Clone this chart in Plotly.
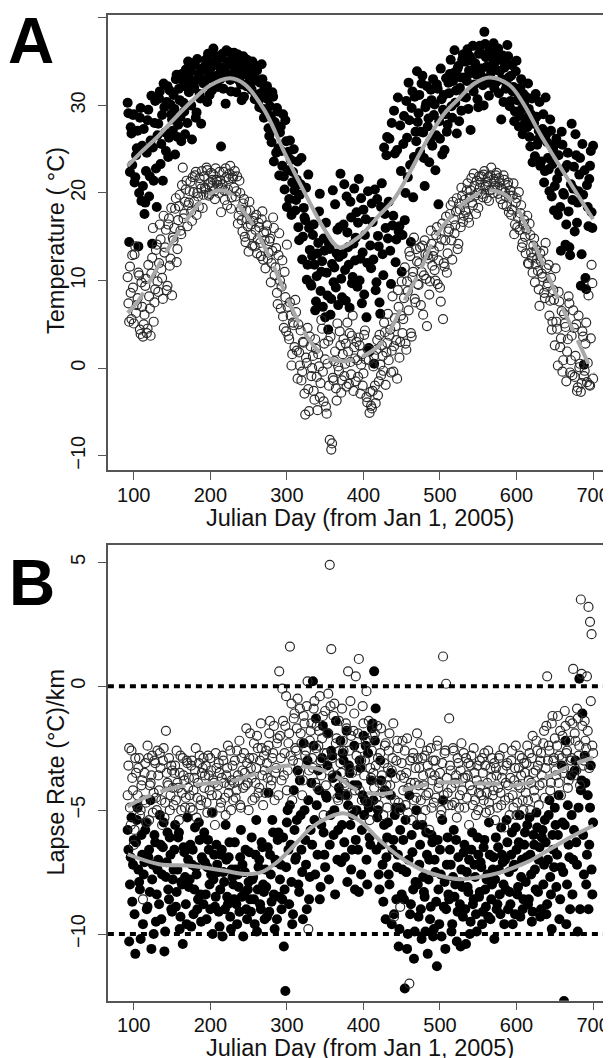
import plotly.graph_objects as go

# ---------------- data ----------------
days_even = list(range(92, 701, 2))
days_odd = list(range(93, 700, 2))

temp_filled_even = [
    30.3, 14.4, 27.5, 23.2, 29.0, 21.8, 25.1, 13.9, 28.6, 19.1,
    20.8, 17.6, 22.5, 28.3, 19.6, 26.0, 14.2, 21.4, 30.5, 18.4,
    27.9, 31.6, 25.6, 21.4, 29.8, 24.8, 32.2, 26.3, 30.1, 28.4,
    31.2, 24.4, 33.5, 27.8, 30.6, 25.9, 32.8, 29.3, 34.1, 28.0,
    31.5, 33.9, 26.1, 32.4, 34.6, 29.2, 33.0, 31.3, 27.9, 34.2,
    32.6, 35.2, 30.4, 33.8, 34.9, 31.7, 36.5, 33.3, 35.6, 32.1,
    34.4, 25.3, 35.9, 33.6, 30.2, 34.8, 36.1, 32.9, 35.3, 33.7,
    34.7, 31.5, 35.8, 33.1, 32.4, 34.9, 31.0, 33.8, 35.2, 32.6,
    34.3, 31.8, 33.6, 30.7, 32.9, 34.5, 29.8, 31.4, 33.0, 28.6,
    30.9, 32.2, 27.4, 29.9, 25.8, 31.0, 28.1, 24.6, 29.3, 22.0,
    27.6, 23.1, 21.9, 28.3, 18.4, 24.7, 26.0, 17.5, 22.4, 20.3,
    19.2, 23.6, 14.6, 21.0, 12.4, 18.3, 16.9, 10.1, 22.1, 13.5,
    9.4, 15.2, 11.8, 7.6, 13.1, 17.9, 8.8, 12.2, 14.8, 5.8,
    10.9, 4.4, 13.6, 7.9, 20.3, 11.5, 9.2, 15.8, 12.7, 22.2,
    8.1, 16.4, 11.2, 19.6, 13.8, 6.9, 17.2, 10.4, 20.5, 14.9,
    9.3, 21.6, 12.5, 7.4, 18.1, 15.2, 5.8, 20.2, 1.9, 11.4,
    16.7, 0.5, 8.9, 19.3, 13.9, 6.2, 21.1, 10.6, 17.6, 24.3,
    14.8, 26.2, 9.6, 16.3, 29.4, 12.1, 24.9, 15.6, 27.7, 11.0,
    25.6, 16.9, 30.5, 21.8, 28.3, 14.4, 31.6, 24.1, 27.0, 33.9,
    29.1, 24.7, 32.5, 26.9, 20.8, 30.2, 27.6, 23.5, 31.8, 25.4,
    28.9, 22.6, 32.4, 18.7, 26.2, 30.7, 29.5, 24.9, 33.1, 27.8,
    31.4, 35.2, 28.6, 33.7, 30.3, 26.8, 34.5, 32.0, 29.4, 35.8,
    33.2, 30.9, 36.4, 34.0, 27.2, 35.1, 31.6, 34.8, 33.5, 29.8,
    36.8, 34.2, 32.3, 38.4, 35.5, 33.1, 31.1, 36.2, 34.6, 37.1,
    35.0, 32.7, 36.5, 33.9, 28.4, 35.7, 34.3, 31.9, 36.9, 33.2,
    30.5, 34.6, 32.1, 29.3, 35.1, 31.4, 28.8, 33.0, 26.7, 30.2,
    31.0, 27.5, 29.6, 25.3, 30.8, 27.9, 24.2, 28.7, 26.1, 30.4,
    23.6, 27.3, 21.2, 30.9, 25.8, 22.7, 28.4, 19.6, 24.9, 20.8,
    26.2, 17.5, 22.4, 13.4, 25.5, 19.8, 14.1, 23.2, 17.9, 12.9,
    27.9, 20.5, 15.6, 24.3, 18.9, 22.1, 9.4, 25.6, 0.4, 10.3,
    20.9, 16.2, 23.1, 17.8, 25.4,
]
temp_filled_odd = [
    29.1, 22.4, 26.8, 28.9, 21.2, 24.3, 27.1, 20.0, 29.7, 25.4,
    27.3, 18.9, 24.6, 29.5, 21.9, 31.1, 25.2, 28.0, 22.8, 26.6,
    30.8, 23.3, 28.9, 32.5, 26.9, 30.4, 24.1, 31.7, 29.0, 27.1,
    29.6, 33.0, 26.4, 31.9, 28.7, 33.6, 30.3, 26.7, 32.1, 35.0,
    33.1, 30.0, 34.8, 32.0, 28.6, 35.3, 33.6, 30.8, 34.0, 32.5,
    34.5, 33.0, 35.9, 31.2, 34.3, 36.0, 32.8, 34.7, 33.4, 35.4,
    33.0, 35.5, 31.9, 34.2, 36.3, 33.5, 35.0, 31.6, 34.6, 36.0,
    33.3, 35.4, 32.9, 34.1, 30.6, 35.6, 33.6, 32.2, 34.4, 33.2,
    32.5, 35.0, 33.4, 31.2, 34.0, 30.5, 32.6, 34.7, 29.6, 31.9,
    29.0, 30.7, 26.5, 28.8, 31.5, 23.6, 27.2, 29.7, 25.1, 26.9,
    24.8, 29.0, 20.4, 25.9, 22.6, 19.3, 23.8, 21.2, 25.0, 18.0,
    21.5, 16.1, 19.8, 24.0, 15.0, 17.2, 20.6, 11.8, 16.0, 9.6,
    12.8, 16.4, 6.6, 10.5, 14.3, 19.9, 11.0, 7.0, 13.4, 16.6,
    8.3, 14.2, 6.1, 11.9, 9.8, 18.7, 13.1, 7.2, 16.1, 10.2,
    13.0, 21.0, 7.7, 15.5, 11.8, 19.0, 9.7, 14.2, 12.3, 17.8,
    16.6, 10.0, 19.4, 13.2, 8.4, 17.0, 12.0, 2.3, 14.0, 18.8,
    12.4, 20.4, 9.8, 15.1, 7.5, 18.4, 13.0, 25.2, 16.0, 26.4,
    19.0, 13.4, 28.0, 17.4, 24.5, 14.7, 30.9, 16.2, 22.5, 15.2,
    28.8, 20.0, 26.3, 32.6, 23.2, 29.7, 19.5, 31.0, 25.9, 28.1,
    31.2, 27.0, 33.4, 24.0, 29.8, 32.2, 28.5, 25.9, 30.6, 33.0,
    30.1, 26.6, 31.9, 28.2, 34.2, 24.4, 31.2, 29.0, 27.0, 32.6,
    33.6, 29.9, 32.8, 36.3, 31.7, 34.2, 28.2, 33.2, 35.2, 31.0,
    35.0, 32.8, 29.6, 35.6, 33.7, 36.8, 32.4, 34.3, 30.7, 35.9,
    33.5, 35.9, 30.0, 37.0, 34.4, 32.6, 36.5, 33.8, 35.4, 32.0,
    34.1, 36.2, 31.4, 35.2, 33.0, 30.4, 34.8, 32.4, 35.6, 29.9,
    33.4, 31.6, 28.2, 33.9, 30.6, 27.6, 32.0, 29.6, 31.3, 28.0,
    28.6, 32.5, 26.4, 29.0, 23.5, 28.0, 31.3, 25.5, 27.1, 23.1,
    26.2, 29.0, 22.5, 26.7, 24.0, 20.2, 27.1, 23.3, 18.0, 25.6,
    21.6, 24.3, 18.4, 27.0, 20.0, 22.8, 16.4, 24.6, 13.8, 21.0,
    19.2, 23.0, 26.7, 16.6, 20.2, 24.0, 13.0, 19.8, 22.6, 9.0,
    18.4, 21.6, 24.8, 16.0,
]

temp_open_even = [
    10.4, 5.3, 8.6, 12.9, 5.1, 13.9, 7.2, 10.9, 4.4, 9.8,
    3.6, 6.1, 10.2, 4.5, 8.2, 3.7, 12.6, 5.3, 9.0, 14.1,
    8.7, 16.4, 11.3, 7.9, 13.2, 15.8, 9.4, 17.1, 12.5, 8.3,
    14.6, 18.2, 12.1, 16.9, 19.8, 15.3, 22.9, 17.6, 20.4, 16.2,
    18.9, 21.3, 16.8, 20.1, 22.0, 17.5, 19.6, 21.7, 20.5, 18.3,
    21.9, 20.4, 22.6, 19.7, 21.2, 20.8, 22.1, 19.3, 21.5, 20.9,
    22.4, 17.8, 21.0, 20.3, 22.8, 18.6, 21.6, 23.1, 19.5, 21.9,
    22.5, 20.2, 16.5, 21.4, 18.1, 15.6, 19.3, 14.4, 17.0, 13.3,
    18.0, 15.2, 16.8, 13.9, 17.5, 14.7, 16.1, 12.8, 17.9, 15.5,
    11.4, 16.3, 13.2, 14.8, 12.0, 17.2, 10.6, 13.7, 7.3, 15.4,
    6.8, 12.3, 4.6, 8.1, 14.1, 3.7, 7.5, 0.3, 5.2, 2.4,
    6.4, -1.2, 1.8, 4.3, -0.4, 2.9, -5.3, 0.6, -2.4, 3.6,
    -0.9, 1.4, -3.6, 2.2, -4.8, 0.2, -1.7, 4.5, -3.8, 1.0,
    -5.2, 3.1, -8.2, -9.3, -1.1, 0.8, -2.3, 5.1, -0.3, 2.6,
    -1.4, 3.3, 0.5, -2.1, 1.9, 4.0, -0.7, 6.0, 2.4, -1.5,
    0.9, 3.5, -2.9, 1.6, -0.6, 4.3, -3.3, 2.1, -5.1, -4.3,
    -2.6, 1.4, -4.0, 3.2, -1.5, 0.4, 2.6, -0.3, 4.1, 1.8,
    6.2, 3.7, -0.5, 8.2, 2.5, 4.8, -1.2, 7.0, 3.0, 9.9,
    5.6, 11.5, 2.1, 8.8, 13.3, 4.0, 10.4, 14.9, 7.5, 12.2,
    9.5, 13.8, 11.0, 6.1, 14.6, 10.2, 12.9, 8.4, 15.7, 11.7,
    13.4, 10.0, 16.1, 12.3, 9.2, 14.7, 5.6, 11.6, 17.3, 13.1,
    15.9, 18.6, 12.4, 17.0, 16.3, 19.4, 14.2, 18.1, 20.6, 16.7,
    19.2, 17.8, 21.1, 16.6, 20.3, 18.9, 22.2, 19.7, 21.4, 18.3,
    20.6, 21.9, 19.5, 22.5, 20.9, 21.3, 19.1, 22.0, 20.4, 21.6,
    20.8, 22.3, 19.9, 21.2, 20.5, 18.7, 21.5, 19.6, 20.9, 17.8,
    20.3, 18.1, 21.1, 16.4, 19.4, 17.2, 15.8, 18.6, 14.3, 16.9,
    13.1, 17.4, 11.9, 15.2, 12.6, 14.0, 9.8, 13.5, 11.1, 7.1,
    12.2, 10.4, 8.6, 14.3, 9.3, 11.8, 7.7, 4.4, 8.9, 2.6,
    5.3, 0.3, 7.6, 3.4, -0.4, 6.2, 4.7, 1.9, 8.2, -0.5,
    3.7, 6.6, -1.0, 5.0, -2.2, 0.1, -2.7, 4.2, -0.9, 2.8,
    -1.6, 8.3, -2.0, 11.8, -1.2,
]
temp_open_odd = [
    7.4, 11.6, 5.6, 9.2, 13.0, 6.3, 8.0, 10.6, 3.9, 7.0,
    5.0, 9.4, 4.0, 11.8, 6.8, 10.8, 16.0, 7.5, 13.5, 9.9,
    12.0, 14.7, 10.3, 17.4, 13.8, 8.9, 16.4, 11.7, 18.3, 14.9,
    16.0, 19.4, 13.6, 18.5, 15.7, 20.9, 17.1, 19.0, 21.4, 18.6,
    20.2, 17.9, 21.8, 19.0, 22.4, 20.0, 18.4, 21.0, 22.5, 19.8,
    20.6, 22.9, 21.0, 19.9, 22.3, 21.5, 20.2, 22.8, 21.3, 20.0,
    21.4, 20.6, 22.4, 19.2, 21.8, 20.4, 22.2, 18.2, 21.7, 20.6,
    19.6, 21.9, 17.4, 20.0, 16.9, 18.8, 15.0, 18.0, 16.2, 19.0,
    16.4, 14.0, 17.2, 15.8, 13.1, 16.6, 14.3, 17.0, 12.4, 14.6,
    15.6, 12.5, 14.5, 9.8, 13.4, 16.0, 11.5, 8.6, 12.9, 10.0,
    9.3, 5.9, 11.0, 4.2, 7.0, 3.3, 6.0, 1.6, 4.9, 7.8,
    2.0, 5.0, 0.3, -1.4, 3.0, -2.9, 1.2, 4.6, -4.9, 2.5,
    0.0, -2.6, 3.3, -1.0, 1.6, -3.3, 5.5, -0.4, 2.8, -4.4,
    0.5, -2.0, 3.6, -8.6, -1.4, 1.9, -3.7, 0.2, 4.2, -2.8,
    1.6, -0.9, 2.8, 5.2, -1.8, 0.7, 3.7, -2.6, 1.1, 3.0,
    -1.0, 2.6, 0.4, -2.0, 3.8, 1.0, -3.9, 0.9, -2.7, -4.6,
    0.2, -2.0, 2.1, -3.1, 3.8, -0.8, 1.4, 5.2, -1.9, 2.9,
    0.9, 4.4, 2.0, -0.4, 5.7, 3.2, 8.9, 1.2, 6.0, 4.0,
    8.0, 2.8, 9.9, 6.6, 12.8, 3.6, 11.0, 7.9, 13.6, 9.6,
    12.0, 7.2, 14.0, 10.6, 13.0, 4.8, 12.5, 9.9, 14.2, 12.8,
    11.2, 15.2, 9.6, 13.9, 7.6, 16.5, 12.0, 14.6, 10.9, 15.6,
    17.6, 14.6, 19.0, 15.4, 17.9, 13.6, 18.8, 16.1, 19.7, 17.4,
    18.0, 20.3, 17.2, 19.5, 21.7, 18.6, 20.8, 17.6, 20.0, 21.9,
    21.2, 19.9, 22.1, 20.7, 19.4, 21.8, 20.3, 22.9, 20.0, 21.3,
    22.0, 20.6, 21.7, 19.3, 20.4, 22.0, 20.1, 18.5, 21.2, 19.7,
    17.5, 19.7, 15.3, 18.9, 16.1, 20.1, 17.7, 13.8, 16.4, 15.0,
    15.8, 12.0, 16.5, 13.2, 10.9, 14.8, 11.9, 12.5, 9.0, 13.1,
    10.8, 13.4, 8.0, 11.4, 9.7, 6.0, 10.3, 5.3, 7.8, 11.4,
    4.5, 8.7, 2.4, 6.5, 0.9, 5.1, -1.5, 3.3, 7.4, 0.9,
    -0.8, 4.6, 1.4, -2.6, 6.0, 0.5, -1.7, 3.6, -0.3, 5.2,
    0.6, -1.9, 3.4, 9.7,
]

lapse_filled_even = [
    -5.8, -10.3, -6.9, -8.7, -6.2, -10.8, -5.4, -7.4, -8.2, -6.0,
    -9.6, -7.1, -5.5, -8.9, -6.6, -4.6, -7.8, -10.0, -6.3, -8.4,
    -7.0, -5.2, -9.4, -6.5, -10.7, -7.7, -5.9, -8.6, -6.8, -9.1,
    -7.4, -5.6, -8.3, -6.1, -9.8, -7.9, -10.4, -6.7, -8.8, -5.3,
    -8.1, -6.4, -7.2, -9.2, -5.7, -7.6, -8.6, -6.2, -9.5, -7.0,
    -5.9, -8.4, -7.3, -6.6, -9.0, -5.1, -7.8, -8.9, -6.4, -7.5,
    -9.7, -6.8, -10.1, -7.9, -5.6, -8.5, -6.9, -9.3, -7.4, -8.0,
    -6.3, -8.8, -7.6, -9.1, -5.8, -7.2, -8.4, -6.6, -9.4, -7.9,
    -8.6, -6.1, -7.7, -9.6, -5.4, -8.2, -7.0, -9.0, -6.5, -8.3,
    -7.4, -9.3, -4.3, -6.8, -8.7, -5.9, -9.8, -7.1, -6.2, -8.5,
    -7.2, -8.6, -10.5, -12.3, -5.5, -6.6, -4.8, -7.9, -9.2, -5.8,
    -6.9, -3.4, -8.3, -5.2, -7.5, -2.3, -6.2, -9.0, -4.6, -7.7,
    -3.9, 0.2, -5.4, -1.3, -6.8, -4.2, -8.1, -2.9, -5.9, -7.3,
    -4.5, -1.9, -6.4, -2.6, -3.7, -5.0, -1.4, -7.0, -4.1, -2.2,
    -5.6, -3.0, -6.9, -1.8, -4.8, -3.5, -7.4, -5.2, -2.4, -6.2,
    -4.0, -8.3, -3.3, -5.8, -2.0, -4.6, -7.0, -2.7, -6.1, -3.8,
    -1.5, 0.6, -0.9, -5.3, -7.6, -3.0, -6.4, -8.7, -4.2, -6.9,
    -5.5, -8.0, -3.5, -6.6, -9.2, -4.9, -7.3, -10.5, -5.8, -8.4,
    -6.2, -12.2, -7.5, -10.0, -4.4, -8.8, -6.7, -11.0, -7.9, -5.6,
    -9.3, -6.4, -10.2, -7.7, -8.5, -5.9, -10.8, -7.0, -8.9, -6.3,
    -9.8, -7.5, -11.3, -8.2, -6.6, -10.1, -4.6, -7.9, -9.0, -6.1,
    -8.6, -7.2, -9.6, -5.8, -8.0, -10.3, -6.9, -8.8, -7.4, -9.3,
    -6.4, -10.4, -8.1, -7.0, -9.5, -5.9, -8.6, -7.7, -9.9, -6.8,
    -8.3, -7.3, -9.1, -6.2, -8.9, -7.6, -5.5, -9.4, -8.0, -6.9,
    -7.8, -9.0, -6.5, -8.4, -5.7, -7.1, -9.6, -8.2, -6.3, -7.5,
    -8.8, -5.9, -7.3, -9.2, -6.6, -8.1, -5.2, -7.7, -9.0, -6.4,
    -7.9, -5.6, -8.6, -6.8, -9.5, -6.0, -7.4, -5.1, -8.3, -6.5,
    -9.0, -5.8, -7.2, -6.3, -8.8, -5.2, -7.7, -9.8, -6.6, -4.9,
    -8.1, -6.0, -9.4, -7.3, -5.5, -12.7, -2.2, -8.0, -6.4, -9.0,
    -5.2, -7.0, -3.4, -6.3, -9.9, 0.3, -4.2, -1.1, -7.6, -3.9,
    -6.8, -9.0, -4.9, -7.4, -5.5,
]
lapse_filled_odd = [
    -6.6, -8.0, -5.3, -7.2, -9.2, -6.3, -4.9, -7.9, -10.2, -6.8,
    -7.6, -5.8, -9.0, -6.9, -8.3, -10.6, -7.2, -6.0, -9.5, -7.4,
    -8.8, -6.4, -7.6, -5.5, -9.9, -7.1, -8.2, -6.1, -9.0, -7.8,
    -6.6, -8.9, -7.4, -5.9, -9.3, -8.0, -6.5, -7.7, -9.6, -7.0,
    -7.8, -9.7, -6.6, -8.2, -7.3, -9.0, -5.5, -8.4, -6.9, -8.8,
    -7.1, -9.4, -6.2, -8.0, -7.6, -10.0, -6.8, -8.5, -7.2, -9.1,
    -8.2, -6.6, -7.5, -9.0, -7.0, -8.8, -6.3, -9.8, -7.7, -8.6,
    -7.4, -9.6, -8.1, -6.9, -8.5, -10.1, -7.5, -9.0, -8.2, -6.7,
    -9.1, -7.8, -8.6, -6.8, -9.9, -7.3, -8.8, -6.3, -8.0, -9.4,
    -8.1, -6.5, -9.1, -7.6, -5.4, -8.4, -7.0, -9.4, -5.9, -7.8,
    -9.0, -6.1, -8.2, -7.3, -5.0, -8.8, -6.4, -9.6, -4.2, -7.0,
    -5.4, -8.0, -3.8, -6.6, -9.4, -5.0, -7.2, -3.0, -8.6, -5.8,
    -6.4, -2.4, -7.6, -4.8, -3.4, -8.6, -5.6, -1.6, -6.8, -4.4,
    -3.2, -7.8, -5.2, -2.8, -6.0, -8.4, -3.6, -5.8, -4.4, -7.1,
    -2.7, -6.3, -4.4, -7.9, -3.2, -5.6, -6.6, -4.0, -8.2, -5.0,
    -6.6, -3.0, -7.6, -4.4, -5.2, -2.4, -8.0, -4.9, -6.4, -1.7,
    -4.6, -2.2, -6.6, -5.0, -8.2, -3.8, -7.2, -5.6, -9.4, -6.1,
    -7.6, -4.4, -9.6, -6.2, -5.2, -8.6, -6.8, -9.8, -4.9, -7.4,
    -8.6, -5.4, -10.6, -7.0, -9.2, -6.0, -8.2, -9.9, -5.0, -8.0,
    -7.2, -9.0, -5.6, -8.3, -9.9, -6.8, -7.8, -9.4, -6.0, -10.1,
    -7.0, -8.7, -6.2, -9.6, -7.6, -5.4, -8.9, -10.6, -7.2, -8.4,
    -6.6, -9.9, -7.7, -8.5, -6.2, -9.1, -7.9, -10.5, -8.1, -6.7,
    -9.0, -7.5, -8.3, -10.0, -6.6, -8.8, -7.2, -9.2, -6.1, -8.5,
    -7.1, -9.6, -6.5, -8.2, -7.8, -9.3, -6.8, -8.6, -7.4, -10.2,
    -6.1, -8.8, -7.4, -9.2, -6.8, -8.0, -7.0, -5.4, -9.0, -8.3,
    -6.8, -9.6, -7.2, -5.7, -8.4, -6.3, -9.3, -7.0, -8.6, -5.9,
    -6.9, -8.8, -5.3, -7.6, -9.1, -6.4, -8.2, -5.7, -7.0, -9.3,
    -6.1, -8.0, -5.4, -9.2, -7.0, -4.6, -8.4, -6.0, -7.3, -5.6,
    -6.8, -4.4, -8.6, -3.2, -7.5, -5.6, -9.6, -4.8, -6.9, -3.6,
    -8.4, -5.8, -3.0, -7.2, -4.9, -9.0, -3.8, -6.0, -2.8, -8.0,
    -4.4, -6.4, -3.2, -8.4,
]

lapse_open_even = [
    -4.4, -2.5, -5.6, -3.7, -6.4, -2.9, -4.8, -3.3, -5.2, -4.0,
    -8.6, -3.5, -4.7, -2.4, -5.4, -3.9, -2.8, -4.3, -3.1, -5.0,
    -3.6, -2.7, -4.6, -3.0, -5.3, -1.8, -3.9, -2.9, -4.4, -3.4,
    -4.8, -3.2, -2.6, -4.1, -3.5, -5.0, -2.9, -3.8, -4.5, -3.1,
    -3.7, -4.9, -3.0, -4.2, -3.4, -5.3, -3.9, -2.8, -4.6, -3.3,
    -4.1, -3.2, -5.1, -3.6, -2.9, -4.4, -3.8, -5.6, -3.3, -4.0,
    -3.5, -4.7, -2.8, -3.9, -5.2, -3.3, -4.3, -2.6, -3.8, -4.6,
    -3.0, -4.2, -3.6, -2.2, -4.9, -3.4, -2.7, -4.0, -3.1, -5.0,
    -1.9, -3.7, -2.9, -4.5, -3.3, -2.5, -4.1, -1.5, -3.6, -2.8,
    -4.3, -3.1, -2.4, -1.4, -3.8, -2.7, -4.6, -3.3, -2.1, 0.6,
    -2.9, -0.1, -3.6, -1.6, -4.2, -2.3, 1.6, -0.7, -3.0, -1.1,
    -2.6, -0.5, -3.5, -1.9, -4.4, -1.2, -2.8, -0.8, -9.8, -2.2,
    -1.5, -3.3, -0.6, -2.5, -4.1, -1.8, -3.0, -2.1, -5.2, -1.0,
    -2.7, -0.3, 4.9, 1.5, -3.6, -0.7, -2.3, -4.5, -1.4, -3.1,
    -0.9, -2.6, -4.0, -1.7, 0.6, -3.3, -2.0, -5.0, -1.1, 0.4,
    -3.4, 1.1, -2.5, -4.6, -1.5, -3.0, -0.2, -2.2, -5.4, -3.7,
    -2.0, -4.1, -3.2, -1.6, -4.8, -2.7, -3.6, -5.2, -2.4, -4.0,
    -3.3, -1.9, -4.4, -2.9, -9.3, -3.7, -2.2, -4.7, -8.9, -3.1,
    -4.2, -2.6, -3.5, -5.1, -12.0, -3.9, -2.9, -4.6, -3.3, -1.9,
    -4.0, -2.3, -5.3, -3.6, -2.8, -4.4, -3.2, -5.8, -2.5, -3.8,
    -4.7, -3.0, -2.4, -4.1, -3.5, -5.0, 1.2, -2.7, 0.1, -4.3,
    -1.3, -3.4, -4.8, -2.6, -3.9, -5.3, -3.1, -4.4, -2.3, -3.7,
    -4.9, -2.9, -3.6, -5.6, -3.2, -4.2, -2.5, -4.6, -3.8, -5.0,
    -3.0, -4.4, -3.5, -2.7, -5.1, -3.9, -4.7, -3.3, -2.9, -4.2,
    -5.4, -3.6, -4.1, -2.8, -4.8, -3.4, -5.7, -3.9, -3.1, -4.5,
    -3.7, -2.6, -4.9, -3.3, -5.2, -4.0, -2.8, -3.6, -4.6, -3.1,
    -4.3, -2.4, -3.8, -5.0, -2.9, -3.5, -4.5, -2.2, -3.2, -4.0,
    -2.7, -3.9, -1.8, -3.3, 0.4, -2.4, -4.2, -1.5, -3.0, -2.1,
    -3.6, -1.2, -2.8, -4.4, -2.0, -3.3, -1.6, -2.6, -3.8, -1.4,
    -2.9, 0.7, -1.9, -3.4, -1.3, -2.4, 3.5, -1.6, -3.0, -2.2,
    0.4, 3.2, 2.6, 2.1, -2.7,
]
lapse_open_odd = [
    -3.2, -4.9, -2.6, -4.2, -5.8, -3.5, -4.4, -2.9, -5.0, -3.8,
    -4.6, -3.1, -5.5, -2.9, -4.0, -3.6, -5.1, -3.0, -4.5, -2.6,
    -4.2, -3.3, -5.6, -2.5, -4.7, -3.5, -4.0, -5.0, -3.2, -4.1,
    -3.5, -4.6, -3.9, -5.4, -2.8, -4.3, -3.6, -4.9, -3.0, -4.1,
    -4.4, -3.2, -5.0, -3.7, -2.5, -4.5, -3.1, -4.8, -3.5, -2.9,
    -3.6, -4.7, -2.8, -4.2, -3.4, -5.1, -3.9, -2.7, -4.4, -3.1,
    -4.9, -3.7, -3.0, -4.5, -3.6, -2.4, -4.0, -5.0, -3.2, -3.9,
    -4.5, -2.6, -3.8, -4.8, -2.9, -4.1, -3.5, -1.7, -3.9, -2.9,
    -3.3, -4.6, -2.3, -3.9, -2.0, -4.3, -3.0, -2.5, -4.8, -3.4,
    -2.6, -3.7, -1.9, -4.0, -2.9, -1.6, -3.5, -2.3, -4.4, -2.0,
    -3.8, -1.4, -2.7, -0.4, -3.4, -1.9, -2.8, -4.6, -1.3, -2.5,
    -1.7, -3.1, -0.9, -2.3, -3.8, -1.5, -2.6, 0.2, -3.4, -1.8,
    -2.9, -0.9, -3.9, -1.6, -2.4, -0.4, -3.6, -1.2, -2.7, -4.0,
    -1.9, -3.4, -0.8, -2.9, -1.2, -3.9, -2.1, -4.6, -2.6, -3.5,
    -2.2, -3.9, -1.5, -4.4, -2.6, -0.6, -3.5, -1.8, -4.2, -2.8,
    -1.9, -4.2, -3.0, -0.8, -3.6, -2.2, -4.7, -1.4, -3.3, -2.6,
    -3.5, -1.9, -4.5, -2.9, -3.9, -1.7, -4.3, -3.1, -2.3, -4.9,
    -2.6, -4.0, -3.4, -1.5, -4.6, -3.0, -2.5, -5.0, -3.6, -2.2,
    -3.7, -4.8, -2.1, -4.1, -3.0, -5.4, -2.7, -3.9, -4.5, -2.9,
    -3.3, -4.6, -2.9, -4.0, -5.0, -2.6, -4.3, -3.5, -4.9, -3.0,
    -3.6, -4.5, -2.2, -3.9, -5.2, -3.1, -4.4, -2.6, -3.7, -4.8,
    -3.2, -4.1, -2.5, -4.7, -3.6, -2.9, -4.9, -3.4, -4.2, -2.7,
    -3.7, -4.5, -3.1, -4.0, -2.8, -4.8, -3.5, -5.2, -3.2, -4.3,
    -4.0, -2.9, -4.6, -3.2, -4.3, -2.6, -5.0, -3.7, -4.4, -3.1,
    -3.3, -4.9, -2.9, -4.3, -3.7, -2.5, -4.6, -3.2, -4.0, -5.2,
    -3.0, -4.4, -3.8, -2.4, -4.7, -3.3, -4.1, -2.9, -5.0, -3.5,
    -3.1, -4.6, -2.7, -3.9, -2.0, -4.2, -3.4, -2.6, -4.8, -3.0,
    -3.6, -2.3, -4.5, -1.6, -3.0, -2.6, -3.9, -1.2, -2.9, -3.4,
    -2.4, -3.9, -1.8, -2.9, -3.5, -1.0, -2.7, -4.1, -2.2, -3.0,
    -1.5, -3.6, -2.2, -0.9, -2.8, -4.0, 0.5, -3.2, -1.4, -2.5,
    -1.8, -3.3, -0.6, -2.4,
]

# smoothed trend lines (at knots)
smooth_temp_filled_days = [92, 110, 132, 150, 176, 200, 226, 245, 271, 298, 324, 350, 368, 393,
                           420, 440, 462, 483, 505, 526, 545, 565, 591, 609, 631, 652, 674, 700]
smooth_temp_filled = [23.1, 24.7, 26.5, 28.2, 30.5, 32.3, 33.1, 32.4, 29.4, 24.4, 19.9, 15.7, 13.8, 14.9,
                      17.4, 19.3, 22.6, 26.0, 29.0, 30.9, 32.5, 33.2, 32.3, 30.2, 26.7, 23.7, 20.6, 17.0]

smooth_temp_open_days = [92, 106, 124, 146, 168, 189, 211, 228, 237, 254, 271, 289, 306, 324, 341, 358, 376,
                         395, 422, 439, 456, 474, 491, 513, 535, 561, 583, 600, 613, 631, 652, 674, 700]
smooth_temp_open = [6.3, 7.7, 10.4, 13.8, 16.8, 19.1, 20.3, 19.8, 18.6, 16.6, 13.8, 10.4, 6.9, 3.9, 2.0, 1.0, 0.8,
                    1.2, 2.7, 5.0, 8.1, 11.1, 14.5, 17.2, 19.1, 20.3, 19.9, 18.4, 16.1, 12.6, 8.4, 4.3, -0.7]

smooth_lapse_filled_days = [92, 133, 176, 219, 245, 267, 289, 311, 332, 354, 374, 395, 422, 448,
                            474, 500, 526, 548, 578, 591, 617, 644, 670, 700]
smooth_lapse_filled = [-6.78, -7.18, -7.25, -7.45, -7.58, -7.5, -7.05, -6.37, -5.7, -5.3, -5.13, -5.43, -6.24, -6.9,
                       -7.38, -7.65, -7.79, -7.72, -7.52, -7.38, -7.05, -6.57, -6.1, -5.63]

smooth_lapse_open_days = [92, 115, 154, 189, 228, 245, 271, 298, 324, 341, 367, 385, 402, 422, 448,
                          474, 500, 526, 552, 578, 591, 617, 644, 670, 700]
smooth_lapse_open = [-4.85, -4.49, -4.08, -3.95, -3.82, -3.68, -3.41, -3.21, -3.25, -3.34, -3.68, -4.08, -4.29, -4.35,
                     -4.22, -4.02, -3.88, -3.88, -3.92, -3.95, -4.02, -3.88, -3.61, -3.21, -2.87]

ref_lines_b = [0, -10]
x_ticks = [100, 200, 300, 400, 500, 600, 700]
y_ticks_a = [-10, 0, 10, 20, 30, 40]
y_ticks_b = [-10, -5, 0, 5]

# ---------------- figure ----------------
# The page body adds an 8px margin, so the figure is laid out 8px smaller
# and all target window positions are shifted by that offset.
OFF = 8
W, H = 611 - OFF, 1058 - OFF
FONT = "Liberation Sans, Arial, Helvetica, sans-serif"
fig = go.Figure()

filled_marker = dict(color="black", size=10, line=dict(width=0))
open_marker = dict(symbol="circle-open", color="#2a2a2a", size=9, line=dict(width=1.2, color="#2a2a2a"))
smooth_col = "#a8a8a8"
all_days = days_even + days_odd

panels = [
    ("x", "y", temp_filled_even + temp_filled_odd, temp_open_even + temp_open_odd,
     smooth_temp_filled_days, smooth_temp_filled, smooth_temp_open_days, smooth_temp_open),
    ("x2", "y2", lapse_filled_even + lapse_filled_odd, lapse_open_even + lapse_open_odd,
     smooth_lapse_filled_days, smooth_lapse_filled, smooth_lapse_open_days, smooth_lapse_open),
]
for xa, ya, f, o, sfd, sf, sod, so in panels:
    fig.add_trace(go.Scatter(x=all_days, y=f, mode="markers", marker=filled_marker, xaxis=xa, yaxis=ya,
                             showlegend=False, hoverinfo="skip"))
    fig.add_trace(go.Scatter(x=all_days, y=o, mode="markers", marker=open_marker, xaxis=xa, yaxis=ya,
                             showlegend=False, hoverinfo="skip"))
    fig.add_trace(go.Scatter(x=sfd, y=sf, mode="lines", line=dict(color=smooth_col, width=4, shape="spline"),
                             xaxis=xa, yaxis=ya, showlegend=False, hoverinfo="skip"))
    fig.add_trace(go.Scatter(x=sod, y=so, mode="lines",
                             line=dict(color=smooth_col, width=4, shape="spline", dash="26px,10px"),
                             xaxis=xa, yaxis=ya, showlegend=False, hoverinfo="skip"))

for v in ref_lines_b:
    fig.add_shape(type="line", xref="x2 domain", yref="y2", x0=0, x1=1, y0=v, y1=v,
                  line=dict(color="black", width=4, dash="6px,5px"))

# plot geometry (window pixels -> paper pixels)
left_px = 107.9 - OFF
a_top, a_bot = 14.5 - OFF, 470.0 - OFF
b_top, b_bot = 544.5 - OFF, 1000.7 - OFF

axis_common = dict(showgrid=False, zeroline=False, showline=True, linecolor="#555555", linewidth=1.5,
                   ticks="outside", ticklen=8, tickwidth=1.3, tickcolor="#555555",
                   tickfont=dict(family=FONT, size=20, color="#111111"))

fig.update_layout(
    width=W, height=H, autosize=False,
    margin=dict(l=0, r=0, t=0, b=0),
    paper_bgcolor="white", plot_bgcolor="white",
    showlegend=False,
    xaxis=dict(domain=[left_px / W, 1], range=[66.2, 723.4], tickvals=x_ticks, mirror=True,
               anchor="y", ticklabelstandoff=-2, **axis_common),
    yaxis=dict(domain=[1 - a_bot / H, 1 - a_top / H], range=[-11.63, 40.38], tickvals=y_ticks_a,
               tickangle=-90, anchor="x", ticklabelstandoff=5, **axis_common),
    xaxis2=dict(domain=[left_px / W, 1], range=[66.2, 723.4], tickvals=x_ticks, mirror=True,
                anchor="y2", ticklabelstandoff=-2, **axis_common),
    yaxis2=dict(domain=[1 - b_bot / H, 1 - b_top / H], range=[-12.69, 5.72], tickvals=y_ticks_b,
                tickangle=-90, anchor="x2", ticklabelstandoff=5, **axis_common),
)

ann_font = dict(family=FONT, size=23.5, color="#111111")
big_font = dict(family=FONT, size=64, color="black")
annotations = [
    dict(text="Julian Day (from Jan 1, 2005)", x=359.5, y=517.5, font=ann_font),
    dict(text="Julian Day (from Jan 1, 2005)", x=359.5, y=1047.5, font=ann_font),
    dict(text="Temperature ( °C)", x=56, y=241, textangle=-90, font=ann_font),
    dict(text="Lapse Rate (°C)/km", x=56, y=772.6, textangle=-90, font=ann_font),
    dict(text="<b>A</b>", x=31, y=41, font=big_font),
    dict(text="<b>B</b>", x=32, y=583, font=big_font),
]
for a in annotations:
    px, py = a.pop("x") - OFF, a.pop("y") - OFF
    fig.add_annotation(xref="paper", yref="paper", x=px / W, y=1 - py / H, showarrow=False,
                       xanchor="center", yanchor="middle", **a)

fig.write_html("out.html")
